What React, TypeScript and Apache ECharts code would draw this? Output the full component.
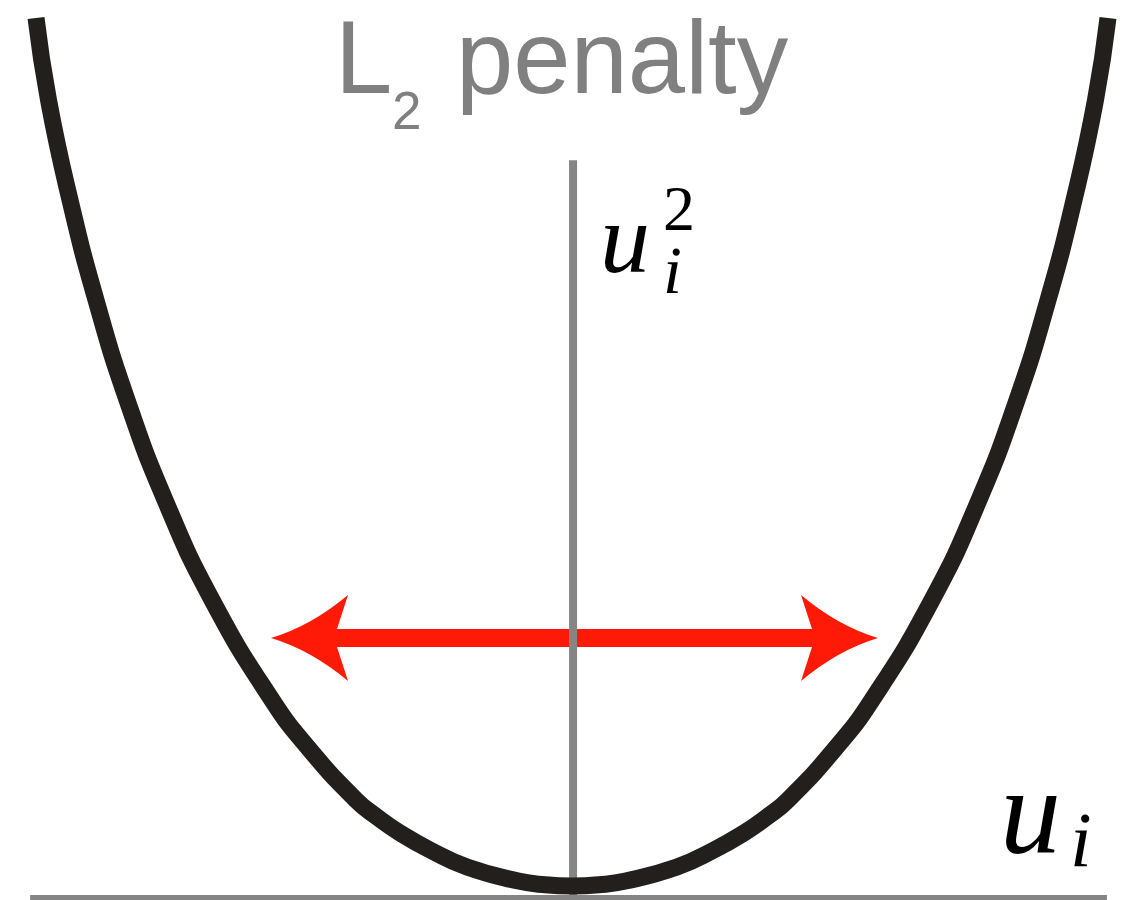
import React, { useEffect, useRef } from "react";
import * as echarts from "echarts";

// Penalty curve (u, penalty)
const curveU = [-1.0, -0.9767, -0.9366, -0.8881, -0.8302, -0.7593, -0.6716, -0.5597, -0.4888, -0.403, -0.3638, -0.3209, -0.2649, -0.1959, -0.1, -0.05, 0, 0.05, 0.1, 0.1959, 0.2649, 0.3209, 0.3638, 0.403, 0.4888, 0.5597, 0.6716, 0.7593, 0.8302, 0.8881, 0.9366, 0.9767, 1.0];
const curveV = [1.0, 0.9055, 0.7903, 0.6751, 0.5599, 0.4447, 0.3295, 0.2143, 0.1567, 0.0991, 0.0795, 0.0611, 0.0415, 0.0219, 0.0057, 0.0014, 0, 0.0014, 0.0057, 0.0219, 0.0415, 0.0611, 0.0795, 0.0991, 0.1567, 0.2143, 0.3295, 0.4447, 0.5599, 0.6751, 0.7903, 0.9055, 1.0];

// Axis lines
const hAxisU = [-1.011, 0.998];
const hAxisV = -0.0138;
const vAxisU = 0.002;
const vAxisV = [-0.0138, 0.836];

// Double arrow: [left tip u, right tip u, level]
const arrowData = [[-0.5616, 0.5709, 0.2857]];

// Axis extents
const X_MIN = -1.0672;
const X_MAX = 1.0448;
const Y_MIN = -0.01613;
const Y_MAX = 1.02074;

const titleMain = "L";
const titleSub = "2";
const titleRest = "penalty";

export default function App() {
  const ref = useRef<HTMLDivElement>(null);
  useEffect(() => {
    document.body.style.margin = "0";
    if (!ref.current) return;
    const chart = echarts.init(ref.current, null, { renderer: "svg" });
    const curveData = curveU.map((u, i) => [u, curveV[i]]);
    const gray = "#858585";
    const mathFont = "Liberation Serif";
    chart.setOption({
      animation: false,
      backgroundColor: "#ffffff",
      grid: { left: 0, right: 0, top: 0, bottom: 0, containLabel: false },
      xAxis: { type: "value", min: X_MIN, max: X_MAX, show: false },
      yAxis: { type: "value", min: Y_MIN, max: Y_MAX, show: false },
      series: [
        {
          type: "custom",
          z: 1,
          clip: false,
          silent: true,
          data: arrowData,
          renderItem: (params: any, api: any) => {
            const l = api.coord([api.value(0), api.value(2)]);
            const r = api.coord([api.value(1), api.value(2)]);
            const xl = l[0];
            const xr = r[0];
            const yc = l[1];
            const L = 77, B = 43, N = 66, S = 9, cx = 40, cy = 12;
            const d = [
              `M${xl},${yc}`,
              `Q${xl + cx},${yc - cy} ${xl + L},${yc - B}`,
              `L${xl + N},${yc - S}`,
              `L${xr - N},${yc - S}`,
              `L${xr - L},${yc - B}`,
              `Q${xr - cx},${yc - cy} ${xr},${yc}`,
              `Q${xr - cx},${yc + cy} ${xr - L},${yc + B}`,
              `L${xr - N},${yc + S}`,
              `L${xl + N},${yc + S}`,
              `L${xl + L},${yc + B}`,
              `Q${xl + cx},${yc + cy} ${xl},${yc}`,
              "Z",
            ].join(" ");
            return {
              type: "path",
              shape: { pathData: d },
              style: { fill: "#ff1a08", stroke: null },
            };
          },
        },
        {
          type: "line",
          z: 2,
          silent: true,
          showSymbol: false,
          data: [
            [hAxisU[0], hAxisV],
            [hAxisU[1], hAxisV],
          ],
          lineStyle: { color: gray, width: 6 },
        },
        {
          type: "line",
          z: 2,
          silent: true,
          showSymbol: false,
          data: [
            [vAxisU, vAxisV[0]],
            [vAxisU, vAxisV[1]],
          ],
          lineStyle: { color: gray, width: 8 },
        },
        {
          type: "line",
          z: 5,
          silent: true,
          showSymbol: false,
          smooth: 0.5,
          data: curveData,
          lineStyle: { color: "#221f1c", width: 17, join: "round" },
        },
      ],
      graphic: [
        {
          type: "text",
          x: 335,
          y: 57,
          style: { text: titleMain, fill: "#808080", font: "103px 'Liberation Sans'", verticalAlign: "middle", align: "left" },
        },
        {
          type: "text",
          x: 392,
          y: 110,
          style: { text: titleSub, fill: "#808080", font: "53px 'Liberation Sans'", lineHeight: 40, verticalAlign: "middle", align: "left" },
        },
        {
          type: "text",
          x: 456,
          y: 57,
          style: { text: titleRest, fill: "#808080", font: "103px 'Liberation Sans'", verticalAlign: "middle", align: "left" },
        },
        {
          type: "text",
          x: 600,
          y: 238,
          style: { text: "u", fill: "#000000", font: `italic 100px '${mathFont}'`, lineHeight: 50, verticalAlign: "middle", align: "left" },
        },
        {
          type: "text",
          x: 663,
          y: 177,
          style: {
            text: "{s|2}\n{b|i}",
            fill: "#000000",
            verticalAlign: "top",
            align: "left",
            rich: {
              s: { fontFamily: mathFont, fontSize: 64, lineHeight: 62, fill: "#000000" },
              b: { fontFamily: mathFont, fontStyle: "italic", fontSize: 68, lineHeight: 62, fill: "#000000" },
            },
          },
        },
        {
          type: "text",
          x: 1000,
          y: 811,
          style: { text: "u", fill: "#000000", font: `italic 122px '${mathFont}'`, lineHeight: 60, verticalAlign: "middle", align: "left" },
        },
        {
          type: "text",
          x: 1070,
          y: 839,
          style: { text: "i", fill: "#000000", font: `italic 78px '${mathFont}'`, lineHeight: 54, verticalAlign: "middle", align: "left" },
        },
      ],
    });
    return () => chart.dispose();
  }, []);
  return <div ref={ref} style={{ width: 1132, height: 900 }} />;
}
